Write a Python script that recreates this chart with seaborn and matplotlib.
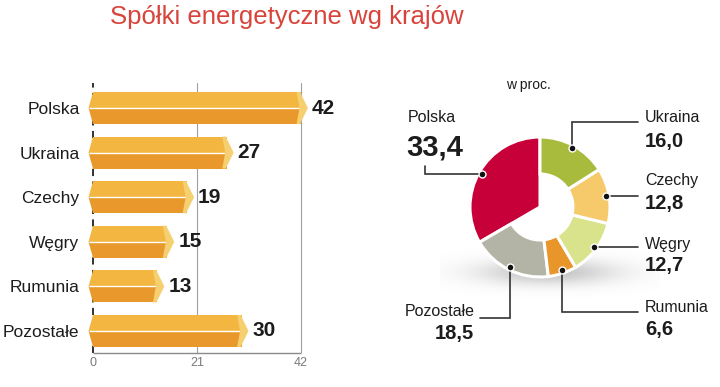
import numpy as np
import pandas as pd
import matplotlib
matplotlib.use("Agg")
import matplotlib.pyplot as plt
import seaborn as sns
from matplotlib.patches import Rectangle, Polygon

# ---------------- data ----------------
title = "Spółki energetyczne wg krajów"
unit_label = "w proc."

countries = ["Polska", "Ukraina", "Czechy", "Węgry", "Rumunia", "Pozostałe"]
company_counts = [42, 27, 19, 15, 13, 30]
axis_ticks = [0, 21, 42]

pie_labels = ["Polska", "Pozostałe", "Rumunia", "Węgry", "Czechy", "Ukraina"]
pie_shares = [33.4, 18.5, 6.6, 12.7, 12.8, 16.0]
pie_share_text = ["33,4", "18,5", "6,6", "12,7", "12,8", "16,0"]
pie_colors = ["#c8003a", "#b4b4a6", "#e8952a", "#d8e38c", "#f6c96a", "#a9bb3d"]

# ---------------- style ----------------
sns.set_theme(style="white")
plt.rcParams['font.family'] = ['Liberation Sans', 'DejaVu Sans']

W, H = 720, 387
fig = plt.figure(figsize=(W / 100, H / 100), dpi=100)
fig.patch.set_facecolor("white")

BAR_DARK = "#e9992b"
BAR_LIGHT = "#f3b641"
BAR_CAP = "#f6cf70"
TXT = "#1c1c1c"

# ---------------- bar chart ----------------
x0_px = 93.0
ppu = 208.0 / 42.0
xmin, xmax = -1.6, 52.0
left_px = x0_px + xmin * ppu
right_px = x0_px + xmax * ppu
top_px, bot_px = 83.0, 353.0
bax = fig.add_axes([left_px / W, 1 - bot_px / H, (right_px - left_px) / W, (bot_px - top_px) / H])
bax.set_zorder(2)
bax.patch.set_alpha(0)

df = pd.DataFrame({"kraj": countries, "liczba": company_counts})
sns.barplot(data=df, y="kraj", x="liczba", orient="h", color=BAR_DARK, width=0.72,
            saturation=1, linewidth=0, ax=bax, zorder=3)

step = (331 - 108) / 5.0
y_top = -(108 - top_px) / step
y_bot = 5 + (bot_px - 331) / step
bax.set_xlim(xmin, xmax)
bax.set_ylim(y_bot, y_top)

bars = list(bax.patches)
for p, val in zip(bars, company_counts):
    x, y, w, h = p.get_x(), p.get_y(), p.get_width(), p.get_height()
    mid = y + h / 2
    v = x + w
    bax.add_patch(Rectangle((x, y), w, h / 2, facecolor=BAR_LIGHT, lw=0, zorder=3.1))
    bax.add_patch(Polygon([(x, y), (x - 0.9, mid), (x, mid)], closed=True, facecolor=BAR_LIGHT, lw=0, zorder=3.1))
    bax.add_patch(Polygon([(x, mid), (x - 0.9, mid), (x, y + h)], closed=True, facecolor=BAR_DARK, lw=0, zorder=3.1))
    bax.plot([x - 0.9, v - 0.3], [mid, mid], color="white", lw=1.0, zorder=3.3, solid_capstyle="butt")
    bax.add_patch(Polygon([(v - 0.9, y), (v - 0.2, y), (v + 1.4, mid), (v - 0.2, y + h), (v - 0.9, y + h), (v - 0.3, mid)],
                          closed=True, facecolor=BAR_CAP, lw=0, zorder=3.4))
    bax.text(v + 2.2, mid, f"{val}", ha="left", va="center", fontsize=15, fontweight="bold",
             color=TXT, zorder=4)

for t in axis_ticks[1:]:
    bax.axvline(t, color="#a0a0a0", lw=0.8, zorder=1)
bax.axvline(0, color="#222222", lw=1.3, ls=(0, (4, 3)), zorder=1)
bax.hlines(y_bot, 0, axis_ticks[-1], color="#8a8a8a", lw=1.0, zorder=1, clip_on=False)

for s in bax.spines.values():
    s.set_visible(False)
bax.set_xticks(axis_ticks)
bax.set_xticklabels([str(t) for t in axis_ticks])
bax.tick_params(axis="x", length=0, pad=3, labelsize=9, labelcolor="#7a7a7a")
bax.tick_params(axis="y", length=0, pad=4, labelsize=12.5, labelcolor=TXT)
bax.set_xlabel("")
bax.set_ylabel("")

# ---------------- donut chart ----------------
pax = fig.add_axes([0, 0, 1, 1])
pax.set_zorder(1)
pax.patch.set_alpha(0)

cx, cy_px = 540.0, 207.0
R = 70.0


def P(x, y):
    return x, H - y


# soft shadow (gaussian blob)
sx0, sx1, sy0, sy1 = 440, 660, 240, 305
gx = np.linspace(sx0, sx1, 220)
gy = np.linspace(sy0, sy1, 65)
GX, GY = np.meshgrid(gx, gy)
alpha = 0.42 * np.exp(-(((GX - 548) / 48.0) ** 2 + ((GY - 272) / 9.0) ** 2) / 2)
rgba = np.zeros(GX.shape + (4,))
rgba[..., :3] = 0.45
rgba[..., 3] = alpha
pax.imshow(rgba, extent=(sx0, sx1, H - sy1, H - sy0), origin="upper", zorder=0.5,
           interpolation="bilinear", aspect="auto")

wedges, _ = pax.pie(pie_shares, colors=pie_colors, startangle=90, counterclock=True,
                    center=P(cx, cy_px), radius=R, frame=True,
                    wedgeprops=dict(width=37, edgecolor="white", linewidth=2.2))
wedges[0].set_width(None)
for wd in wedges:
    wd.set_zorder(2)

pax.set_xlim(0, W)
pax.set_ylim(0, H)
pax.axis("off")

dots = []
for wd in wedges:
    th = np.deg2rad((wd.theta1 + wd.theta2) / 2)
    dx = cx + 67 * np.cos(th)
    dy = cy_px - 67 * np.sin(th)
    dots.append((dx, dy))

d = dict(zip(pie_labels, dots))
routes = {
    "Polska": [d["Polska"], (425, d["Polska"][1]), (425, 166)],
    "Ukraina": [d["Ukraina"], (d["Ukraina"][0], 122), (638, 122)],
    "Czechy": [d["Czechy"], (638, d["Czechy"][1])],
    "Węgry": [d["Węgry"], (638, d["Węgry"][1])],
    "Rumunia": [d["Rumunia"], (d["Rumunia"][0], 312), (638, 312)],
    "Pozostałe": [d["Pozostałe"], (d["Pozostałe"][0], 318), (480, 318)],
}

for name, pts in routes.items():
    xs = [p[0] for p in pts]
    ys = [H - p[1] for p in pts]
    pax.plot(xs, ys, color="#333333", lw=1.2, zorder=3, solid_joinstyle="miter")
    pax.plot(xs[0], ys[0], "o", ms=5, color="#111111", mec="white", mew=1.0, zorder=4)

label_pos = {
    "Polska": ((408, 118), (406, 148), "left"),
    "Ukraina": ((645, 118), (645, 141), "left"),
    "Czechy": ((645, 180), (645, 203), "left"),
    "Węgry": ((645, 244), (645, 266), "left"),
    "Rumunia": ((645, 307), (645, 329), "left"),
    "Pozostałe": ((475, 311), (474, 333), "right"),
}
for name, txt in zip(pie_labels, pie_share_text):
    (nx, ny), (vx, vy), ha = label_pos[name]
    pax.text(*P(nx, ny), name, ha=ha, va="center", fontsize=11.5, color=TXT, zorder=5)
    pax.text(*P(vx, vy), txt, ha=ha, va="center", fontsize=21 if name == "Polska" else 14.5,
             fontweight="bold", color=TXT, zorder=5)

pax.text(*P(528, 85), unit_label, ha="center", va="center", fontsize=10, color=TXT)

# ---------------- title ----------------
fig.text(287 / W, 1 - 17 / H, title, ha="center", va="center", fontsize=18.5, color="#d8433b")

fig.savefig("out.png", dpi=100, facecolor="white")
